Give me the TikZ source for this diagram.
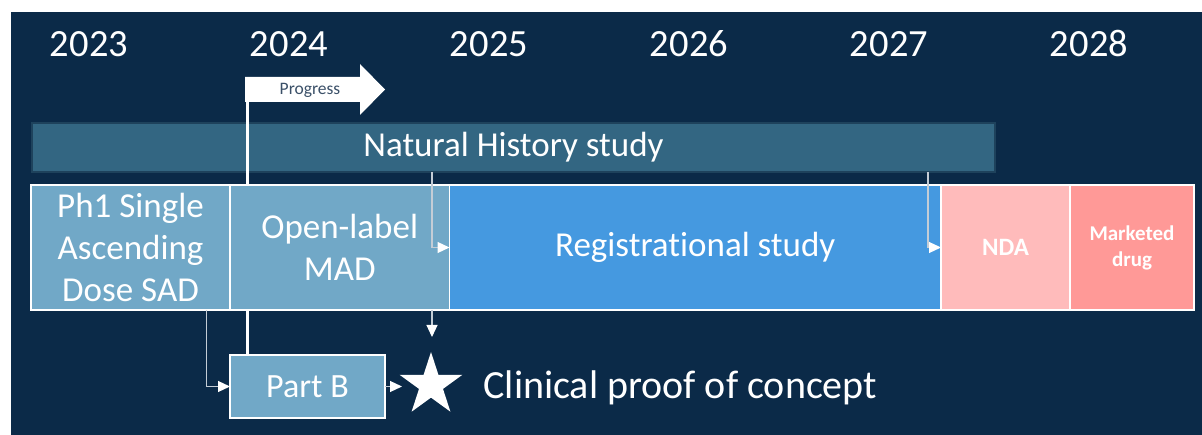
\documentclass[tikz,border=0pt]{standalone}
\usepackage{fontspec}
\setmainfont{Carlito}[Ligatures=NoCommon]
\usetikzlibrary{arrows.meta,shapes.geometric}
\definecolor{navy}{RGB}{11,42,72}
\definecolor{steel}{RGB}{51,102,130}
\definecolor{steeldark}{RGB}{30,66,92}
\definecolor{paleblue}{RGB}{113,168,199}
\definecolor{regblue}{RGB}{69,153,224}
\definecolor{ndapink}{RGB}{255,187,187}
\definecolor{mktpink}{RGB}{255,153,151}
\definecolor{progtext}{RGB}{59,80,104}
\definecolor{linegray}{RGB}{196,205,214}

\begin{document}
\begin{tikzpicture}[x=1pt,y=-1pt,
phase/.style={draw=white,line width=1.5pt,minimum height=125pt,inner sep=0pt,
  outer sep=0pt,align=center,text=white,anchor=west},
big/.style={font=\fontsize{35}{42}\selectfont},
year/.style={text=white,anchor=base,font=\fontsize{38.5}{40}\selectfont},
conn/.style={draw=linegray,line width=1.2pt,
  -{Triangle[width=11pt,length=12pt,color=white]}},
]
\useasboundingbox (0,0) rectangle (1202,435);
\fill[navy] (11,12) rectangle (1202,435);

% годы
\foreach \yr [count=\i from 0] in {2023,2024,2025,2026,2027,2028}
  \node[year] (y\yr) at ({89+200*\i},57) {\yr};

\node[fill=steel,draw=steeldark,line width=1.5pt,minimum width=963pt,
  minimum height=49pt,inner sep=0pt,outer sep=0pt,text=white,big] (nhs)
  at (513.5,147.5) {Natural History study};

% стрелка Progress
\fill[white] (245,77) -- (360,77) -- (360,64) -- (385,89.5)
  -- (360,115) -- (360,102) -- (245,102) -- cycle;
\node[text=progtext,font=\fontsize{17.5}{20}\selectfont] (prog)
  at (310,90) {Progress};
\coordinate (progfoot) at (247.5,102);

\node[draw=white,line width=1.5pt,fill=paleblue,minimum width=155pt,
  minimum height=63pt,outer sep=0pt,text=white,
  font=\fontsize{34}{40}\selectfont] (partb)
  at (307.5,386.5) {Part B};
\draw[white,line width=2.5pt] (progfoot) -- (progfoot |- partb.north);

% фазы
\node[phase,fill=paleblue,minimum width=199pt,big] (sad)
  at (31,247.5) {Ph1 Single\\Ascending\\Dose SAD};
\node[phase,fill=paleblue,minimum width=219.5pt,big] (mad)
  at (sad.east) {Open-label\\MAD};
\node[phase,fill=regblue,minimum width=491.5pt,big] (reg)
  at (mad.east) {Registrational study};
\node[phase,fill=ndapink,minimum width=129pt,
  font=\fontsize{25}{30}\selectfont\bfseries] (nda)
  at (reg.east) {NDA};
\node[phase,fill=mktpink,minimum width=124pt,
  font=\fontsize{21}{26}\selectfont\bfseries] (mkt)
  at (nda.east) {Marketed\\drug};

\node[star,star points=5,star point ratio=2.618,minimum size=66pt,
  inner sep=0pt,fill=white] (poc) at (431,385) {};
\node[anchor=base west,text=white,font=\fontsize{40}{44}\selectfont] (poclabel)
  at (480,399) {Clinical proof of concept};

\coordinate (a1) at (432,172);
\coordinate (a2) at (928,172);
\coordinate (a3) at (432,337);
\coordinate (a4) at (402,386.5);
\draw[conn] (a1) |- (reg.west);
\draw[conn] (a2) |- (nda.west);
\draw[conn] ([xshift=76pt]sad.south) |- (partb.west);
\draw[conn] (a1 |- mad.south) -- (a3);
\draw[conn] (partb.east) -- (a4);
\end{tikzpicture}
\end{document}
